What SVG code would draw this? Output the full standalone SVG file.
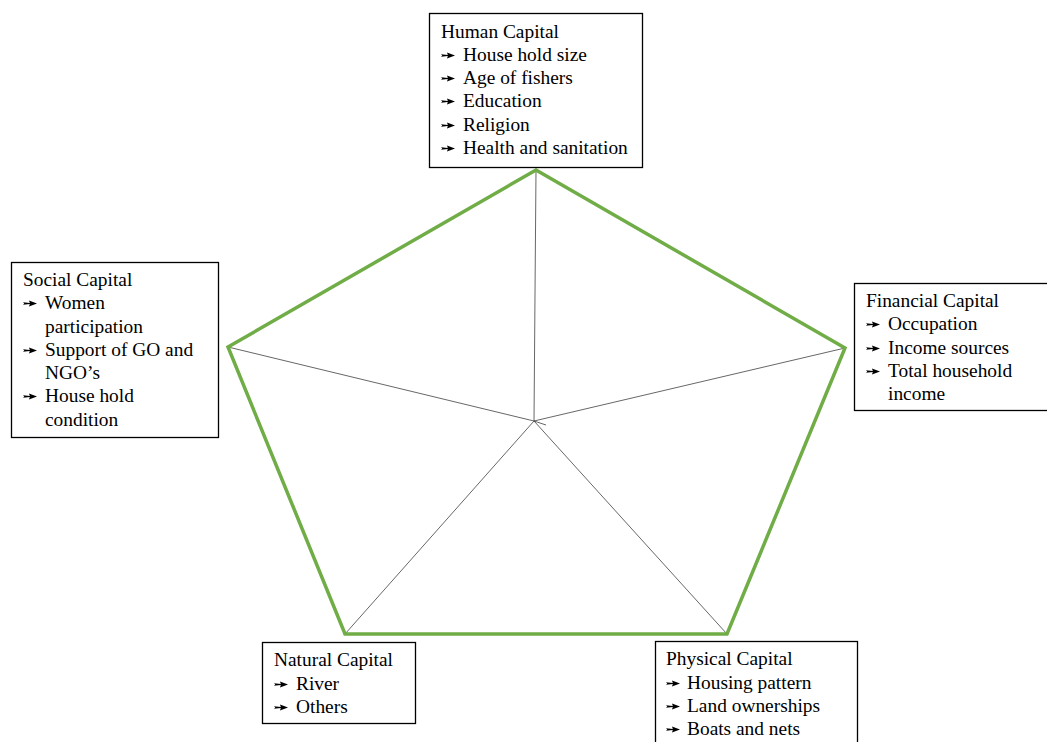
<svg xmlns="http://www.w3.org/2000/svg" width="1047" height="742" viewBox="0 0 1047 742">
<style>
.box{fill:#fff;stroke:#000;stroke-width:1.3}
.t{font-family:"Liberation Serif","Times New Roman",serif;font-size:19.4px;fill:#000}
.spoke{stroke:#404040;stroke-width:0.8;fill:none}
.pent{stroke:#70AD47;stroke-width:3.5;fill:none;stroke-linejoin:miter}
</style>
<defs>
<symbol id="arr" viewBox="0 0 14 7" width="14" height="7" overflow="visible">
<path d="M0,2.2 L1.3,3.5 L0,4.8 L6.8,4.1 L6,6.6 L14,3.5 L6,0.4 L6.8,2.9 Z" fill="#000"/>
</symbol>
</defs>
<rect width="1047" height="742" fill="#fff"/>
<g id="connectors">
<line class="spoke" x1="534" y1="421" x2="536" y2="170"/>
<line class="spoke" x1="534" y1="421" x2="845" y2="348"/>
<line class="spoke" x1="534" y1="421" x2="727" y2="634"/>
<line class="spoke" x1="534" y1="421" x2="345" y2="634"/>
<line class="spoke" x1="534" y1="421" x2="228" y2="347"/>
<line class="spoke" x1="534" y1="421" x2="546" y2="425"/>
<polygon class="pent" points="536,170 845,348 727,634 345,634 228,347"/>
</g>
<g id="human">
<rect class="box" x="429.5" y="13.5" width="213" height="154"/>
<text class="t" x="441" y="38">Human Capital</text>
<use href="#arr" x="441" y="52"/><text class="t" x="463" y="61">House hold size</text>
<use href="#arr" x="441" y="75"/><text class="t" x="463" y="84">Age of fishers</text>
<use href="#arr" x="441" y="98"/><text class="t" x="463" y="107">Education</text>
<use href="#arr" x="441" y="122"/><text class="t" x="463" y="131">Religion</text>
<use href="#arr" x="441" y="145"/><text class="t" x="463" y="154">Health and sanitation</text>
</g>
<g id="social">
<rect class="box" x="11.5" y="262.5" width="207" height="175"/>
<text class="t" x="23" y="286">Social Capital</text>
<use href="#arr" x="23" y="300"/><text class="t" x="45" y="309">Women</text>
<text class="t" x="45" y="333">participation</text>
<use href="#arr" x="23" y="347"/><text class="t" x="45" y="356">Support of GO and</text>
<text class="t" x="45" y="379">NGO’s</text>
<use href="#arr" x="23" y="393"/><text class="t" x="45" y="402">House hold</text>
<text class="t" x="45" y="426">condition</text>
</g>
<g id="financial">
<rect class="box" x="854.5" y="283.5" width="195" height="127"/>
<text class="t" x="866" y="307">Financial Capital</text>
<use href="#arr" x="866" y="321"/><text class="t" x="888" y="330">Occupation</text>
<use href="#arr" x="866" y="345"/><text class="t" x="888" y="354">Income sources</text>
<use href="#arr" x="866" y="368"/><text class="t" x="888" y="377">Total household</text>
<text class="t" x="888" y="400">income</text>
</g>
<g id="natural">
<rect class="box" x="262.5" y="642.5" width="153" height="81"/>
<text class="t" x="274" y="666">Natural Capital</text>
<use href="#arr" x="274" y="681"/><text class="t" x="296" y="690">River</text>
<use href="#arr" x="274" y="704"/><text class="t" x="296" y="713">Others</text>
</g>
<g id="physical">
<rect class="box" x="655.5" y="641.5" width="202" height="110"/>
<text class="t" x="666" y="665">Physical Capital</text>
<use href="#arr" x="666" y="680"/><text class="t" x="687" y="689">Housing pattern</text>
<use href="#arr" x="666" y="703"/><text class="t" x="687" y="712">Land ownerships</text>
<use href="#arr" x="666" y="726"/><text class="t" x="687" y="735">Boats and nets</text>
</g>
</svg>
